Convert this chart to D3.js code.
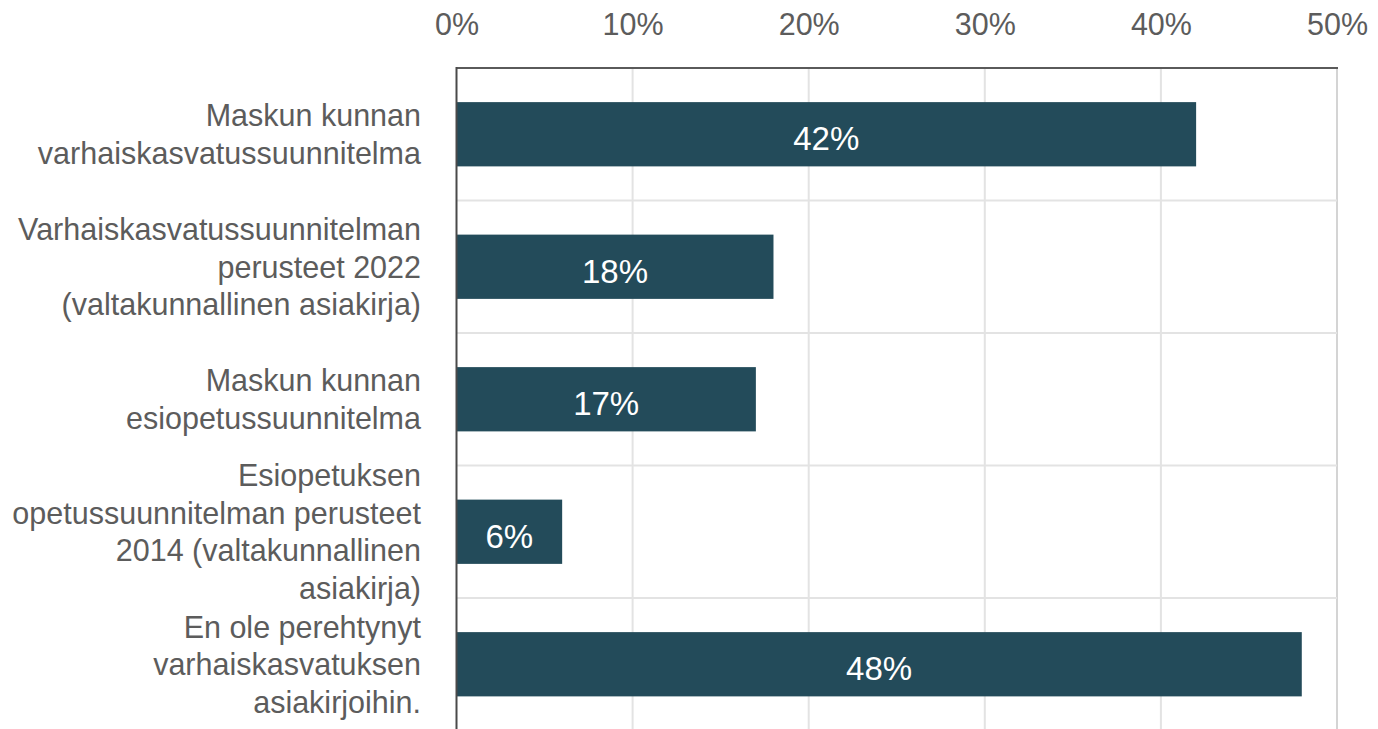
<!DOCTYPE html>
<html><head><meta charset="utf-8">
<script src="https://cdn.jsdelivr.net/npm/d3@7"></script>
<style>
html,body{margin:0;padding:0;background:#fff;overflow:hidden;}
svg{display:block;font-family:"Liberation Sans",Arial,sans-serif;}
</style></head>
<body>
<svg id="chart" width="1378" height="729"></svg>
<script>
const categories = [
  ["Maskun kunnan", "varhaiskasvatussuunnitelma"],
  ["Varhaiskasvatussuunnitelman", "perusteet 2022", "(valtakunnallinen asiakirja)"],
  ["Maskun kunnan", "esiopetussuunnitelma"],
  ["Esiopetuksen", "opetussuunnitelman perusteet", "2014 (valtakunnallinen", "asiakirja)"],
  ["En ole perehtynyt", "varhaiskasvatuksen", "asiakirjoihin."]
];
const values = [42, 18, 17, 6, 48];
const ticks = [0, 10, 20, 30, 40, 50];
const tickLabels = ["0%", "10%", "20%", "30%", "40%", "50%"];

(function () {
const svg = d3.select("#chart");
const pl = 456.5, pr = 1337, pt = 68, pb = 730.5;
const fs = 30.5, lh = 37.5;
const textCol = "#5c5c5c";

const x = d3.scaleLinear().domain([0, 50]).range([pl, pr]);
const y = d3.scaleBand().domain(d3.range(categories.length)).range([pt, pb])
  .paddingInner(0.515).paddingOuter(0.2575);
const step = y.step();

// vertical gridlines
svg.append("g").selectAll("line").data(ticks.filter(t => t > 0)).join("line")
  .attr("x1", d => x(d)).attr("x2", d => x(d))
  .attr("y1", pt).attr("y2", pb)
  .attr("stroke", d => d === 50 ? "#d4d4d4" : "#e3e3e3").attr("stroke-width", 2);

// horizontal gridlines at band boundaries
svg.append("g").selectAll("line").data(d3.range(1, categories.length + 1)).join("line")
  .attr("x1", pl).attr("x2", pr)
  .attr("y1", i => pt + i * step).attr("y2", i => pt + i * step)
  .attr("stroke", "#e3e3e3").attr("stroke-width", 2);

// top border
svg.append("line").attr("x1", pl).attr("x2", pr + 1).attr("y1", pt).attr("y2", pt)
  .attr("stroke", "#5a5a5a").attr("stroke-width", 2);

// bars
svg.append("g").selectAll("rect").data(values).join("rect")
  .attr("x", x(0)).attr("y", (d, i) => y(i))
  .attr("width", d => x(d) - x(0)).attr("height", y.bandwidth())
  .attr("fill", "#234b5a");

// left axis line
svg.append("line").attr("x1", pl).attr("x2", pl).attr("y1", pt - 1).attr("y2", pb)
  .attr("stroke", "#4a4a4a").attr("stroke-width", 2);

// value labels
svg.append("g").selectAll("text").data(values).join("text")
  .attr("x", d => (x(0) + x(d)) / 2)
  .attr("y", (d, i) => y(i) + y.bandwidth() / 2 + 16)
  .attr("text-anchor", "middle")
  .attr("fill", "#ffffff").attr("font-size", 33)
  .text(d => d + "%");

// top tick labels
const xAxis = d3.axisTop(x).tickValues(ticks).tickFormat((d, i) => tickLabels[i]).tickSize(0).tickPadding(0);
const ax = svg.append("g").attr("transform", "translate(0,35)").call(xAxis);
ax.select(".domain").remove();
ax.selectAll("text").attr("font-size", fs).attr("fill", textCol)
  .attr("font-family", "'Liberation Sans',Arial,sans-serif").attr("dy", 0);

// category labels
const cg = svg.append("g");
categories.forEach((lines, i) => {
  const cy = pt + (i + 0.5) * step;
  const t = cg.append("text").attr("text-anchor", "end").attr("fill", textCol).attr("font-size", fs);
  const n = lines.length;
  lines.forEach((ln, k) => {
    t.append("tspan").attr("x", 421)
      .attr("y", cy + (k - (n - 1) / 2) * lh)
      .attr("dy", "0.36em")
      .text(ln);
  });
});
})();
</script>
</body></html>
